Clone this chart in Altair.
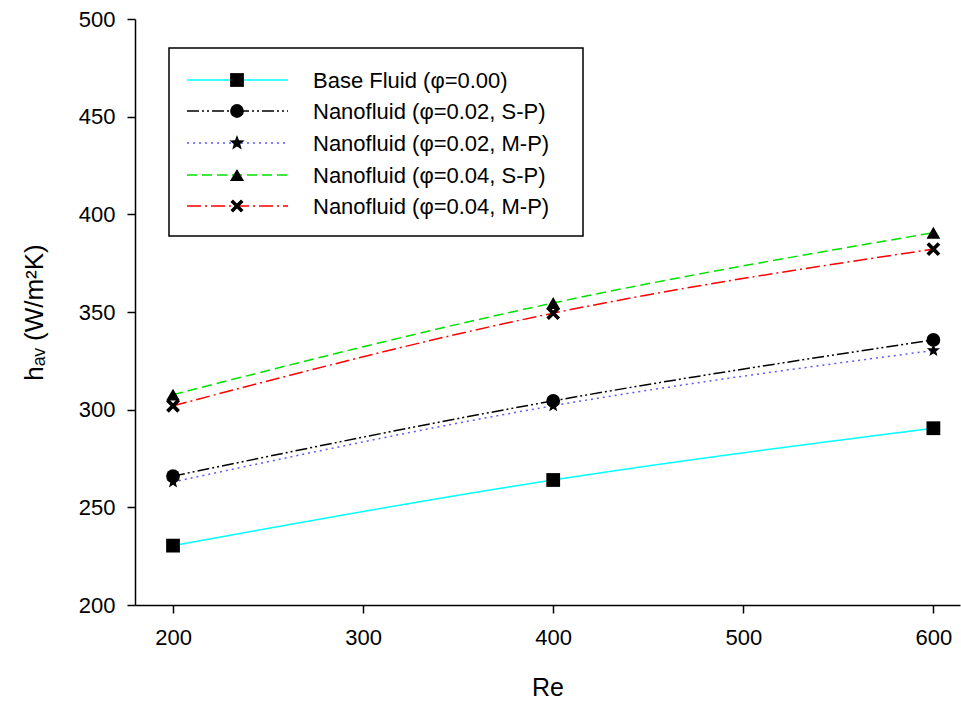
import altair as alt
import pandas as pd

# ---- data ----
re_values = [200, 400, 600]
series_names = [
    "Base Fluid (φ=0.00)",
    "Nanofluid (φ=0.02, S-P)",
    "Nanofluid (φ=0.02, M-P)",
    "Nanofluid (φ=0.04, S-P)",
    "Nanofluid (φ=0.04, M-P)",
]
base_fluid = [230.4, 264.0, 290.5]
nano_02_sp = [266.0, 304.5, 335.7]
nano_02_mp = [263.0, 302.0, 330.3]
nano_04_sp = [307.7, 354.6, 390.6]
nano_04_mp = [302.0, 349.4, 382.2]
all_values = [base_fluid, nano_02_sp, nano_02_mp, nano_04_sp, nano_04_mp]
x_ticks = [200, 300, 400, 500, 600]
y_ticks = [200, 250, 300, 350, 400, 450, 500]

rows = []
for name, vals in zip(series_names, all_values):
    for r, v in zip(re_values, vals):
        rows.append({"series": name, "Re": r, "h": v})
df = pd.DataFrame(rows)

# ---- styles ----
FONT = "Liberation Sans"
colors = ["#00FFFF", "#000000", "#5a5aff", "#00E000", "#FF0000"]
dashes = [[1, 0], [12, 3, 2, 3, 2, 3], [2, 4], [10, 5], [14, 4, 2, 4]]
STAR = ("M0,-1L0.247,-0.34L0.951,-0.309L0.4,0.13L0.588,0.809L0,0.42"
        "L-0.588,0.809L-0.4,0.13L-0.951,-0.309L-0.247,-0.34Z")
XSHAPE = ("M-1,-0.62L-0.62,-1L0,-0.38L0.62,-1L1,-0.62L0.38,0L1,0.62"
          "L0.62,1L0,0.38L-0.62,1L-1,0.62L-0.38,0Z")
shapes = ["square", "circle", STAR, "triangle-up", XSHAPE]
sizes = [190, 190, 260, 200, 170]

PLOT_W, PLOT_H = 825, 586

x_enc = alt.X("Re:Q", scale=alt.Scale(domain=[180, 614], nice=False, zero=False),
              axis=alt.Axis(values=x_ticks, title="Re", grid=False, labelPadding=14,
                            titlePadding=27))
y_enc = alt.Y("h:Q", scale=alt.Scale(domain=[200, 500], nice=False, zero=False),
              axis=alt.Axis(values=y_ticks, title="hₐᵥ (W/m²K)", grid=False,
                            labelPadding=12, titleX=-101, titleY=PLOT_H / 2,
                            titleAngle=270, titleAlign="center", titleBaseline="middle",
                            titleFontSize=26))

lines = alt.Chart(df).mark_line(strokeWidth=1.5, interpolate="monotone").encode(
    x=x_enc,
    y=y_enc,
    color=alt.Color("series:N", scale=alt.Scale(domain=series_names, range=colors), legend=None),
    strokeDash=alt.StrokeDash("series:N", scale=alt.Scale(domain=series_names, range=dashes),
                              legend=None),
    detail="series:N",
)

points = alt.Chart(df).mark_point(filled=True, color="black", opacity=1, strokeWidth=0).encode(
    x=alt.X("Re:Q"),
    y=alt.Y("h:Q"),
    shape=alt.Shape("series:N", scale=alt.Scale(domain=series_names, range=shapes), legend=None),
    size=alt.Size("series:N", scale=alt.Scale(domain=series_names, range=sizes), legend=None),
)

# ---- custom legend (pixel layout) ----
one = alt.Data(values=[{}])
leg_rows_y = [61, 92, 124, 156, 187]
legend_layers = [
    alt.Chart(one).mark_rect(fill="white", stroke="black", strokeWidth=1.5).encode(
        x=alt.value(34), x2=alt.value(448), y=alt.value(29), y2=alt.value(217))
]
for i, name in enumerate(series_names):
    yy = leg_rows_y[i]
    legend_layers.append(
        alt.Chart(one).mark_rule(color=colors[i], strokeDash=dashes[i], strokeWidth=1.5).encode(
            x=alt.value(52), x2=alt.value(153), y=alt.value(yy)))
    legend_layers.append(
        alt.Chart(one).mark_point(filled=True, color="black", opacity=1, strokeWidth=0,
                                  shape=shapes[i], size=sizes[i]).encode(
            x=alt.value(102), y=alt.value(yy)))
    legend_layers.append(
        alt.Chart(one).mark_text(align="left", baseline="middle", font=FONT, fontSize=22,
                                 color="black").encode(
            x=alt.value(178), y=alt.value(yy + 1), text=alt.value(name)))

chart = alt.layer(lines, points, *legend_layers).properties(
    width=PLOT_W, height=PLOT_H,
    background="white",
    autosize=alt.AutoSizeParams(type="none"),
    padding={"left": 135, "top": 19, "right": 1, "bottom": 97},
).configure_view(stroke=None).configure_axis(
    labelFont=FONT, labelFontSize=22, labelColor="black",
    titleFont=FONT, titleFontSize=25, titleFontWeight="normal", titleColor="black",
    domainColor="black", domainWidth=1.5, tickColor="black", tickWidth=1.5, tickSize=8,
)

chart.save("out.html", embed_options={"renderer": "svg", "actions": False})
